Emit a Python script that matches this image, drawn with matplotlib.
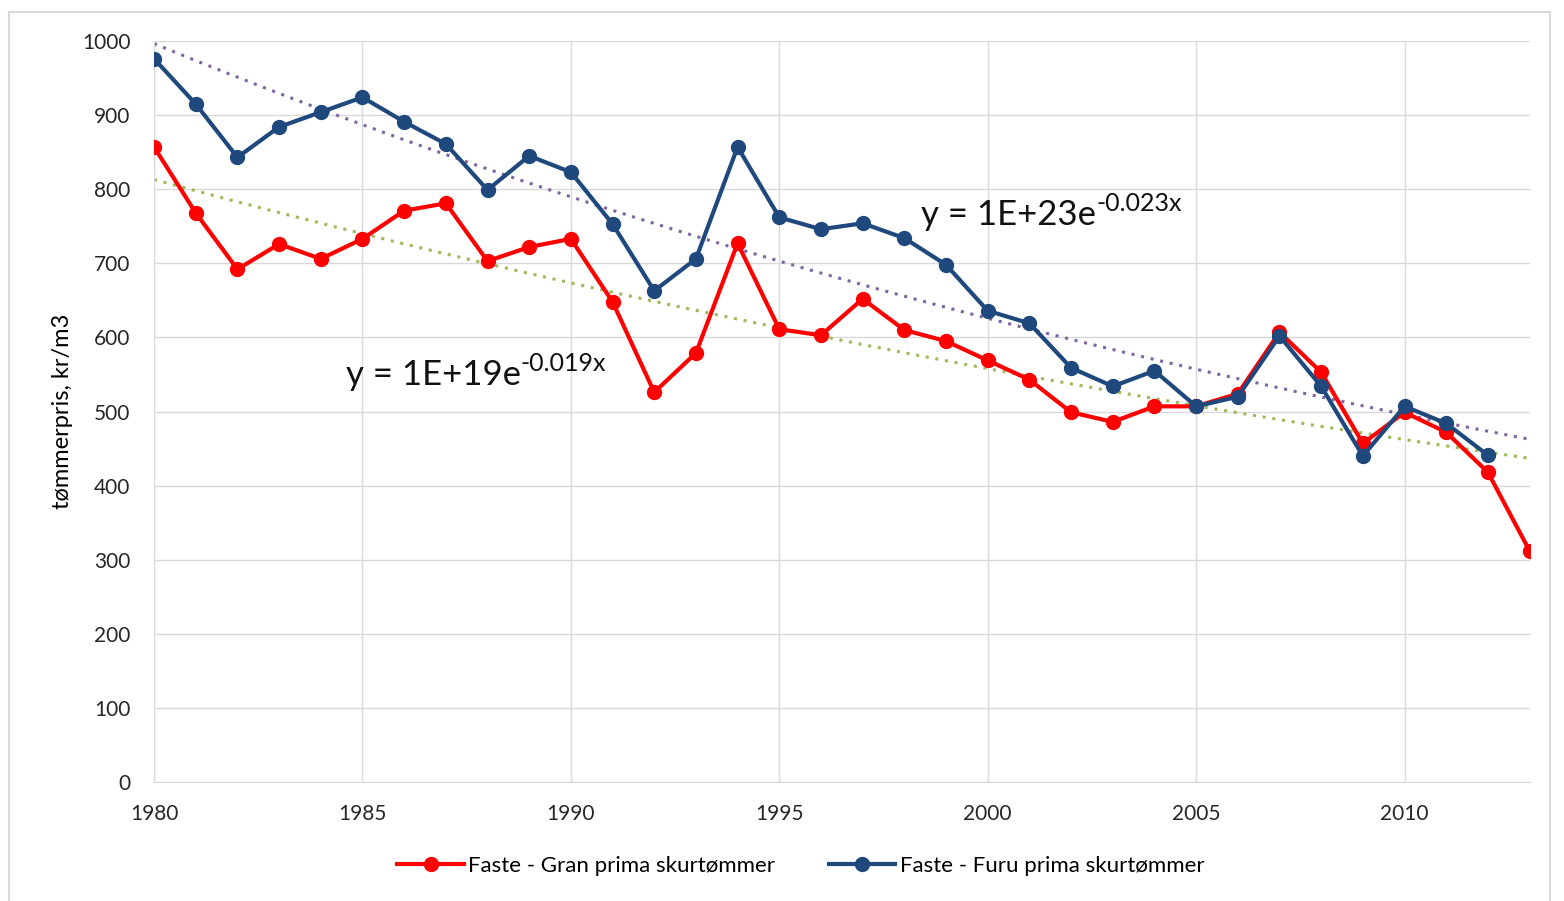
import numpy as np
import matplotlib.pyplot as plt
from matplotlib.patches import Rectangle

plt.rcParams['font.family'] = ['Lato', 'DejaVu Sans']

# data
years_gran = list(range(1980, 2014))
gran = [857, 768, 692, 726, 706, 733, 771, 781, 703, 722,
        733, 648, 526, 579, 727, 611, 603, 652, 610, 595,
        569, 543, 499, 486, 507, 507, 524, 607, 553, 457,
        499, 472, 418, 312]

years_furu = list(range(1980, 2013))
furu = [976, 915, 843, 884, 904, 924, 891, 861, 799, 845,
        823, 753, 663, 706, 857, 762, 746, 754, 734, 698,
        636, 619, 559, 534, 555, 507, 520, 602, 534, 440,
        507, 484, 441]

red = '#ff0000'
blue = '#1f497d'

fig = plt.figure(figsize=(15.64, 9.01), dpi=100)
ax = fig.add_axes([0.0985, 0.132, 0.8795, 0.8225])

# border around chart area like excel
fig.patches.append(Rectangle((0.006, -0.01), 0.985, 0.997, transform=fig.transFigure,
                             fill=False, edgecolor='#d9d9d9', linewidth=1.5))

# exponential trendlines (fit ln y)
xs = np.linspace(1980, 2013, 100)
b, a = np.polyfit(years_furu, np.log(furu), 1)
ax.plot(xs, np.exp(a + b * xs), color='#8064a2', linestyle=(0, (1, 2.2)), linewidth=2.2, zorder=2)
b2, a2 = np.polyfit(years_gran, np.log(gran), 1)
ax.plot(xs, np.exp(a2 + b2 * xs), color='#9bbb59', linestyle=(0, (1, 2.2)), linewidth=2.2, zorder=2)

ax.plot(years_gran, gran, color=red, linewidth=3, marker='o', markersize=10,
        label='Faste - Gran prima skurtømmer', zorder=3)
ax.plot(years_furu, furu, color=blue, linewidth=3, marker='o', markersize=10,
        label='Faste - Furu prima skurtømmer', zorder=4)

# trend equations, superscript as its own text so the hyphen stays a hyphen
for xpos, ypos, base, expo in [(1998.4, 765, 'y = 1E+23e', '-0.023x'),
                               (1984.6, 549, 'y = 1E+19e', '-0.019x')]:
    t = ax.text(xpos, ypos, base, fontsize=25, va='center', ha='left', color='#111111')
    ax.annotate(expo, xy=(1, 0.5), xycoords=t, fontsize=18, va='bottom', ha='left',
                color='#111111')

ax.set_xlim(1980, 2013)
ax.set_ylim(0, 1000)
ax.set_xticks(range(1980, 2011, 5))
ax.set_yticks(range(0, 1001, 100))
ax.grid(True, color='#d9d9d9', linewidth=1)
ax.set_axisbelow(True)
for s in ['top', 'right']:
    ax.spines[s].set_visible(False)
ax.spines['left'].set_color('#d9d9d9')
ax.spines['bottom'].set_color('#d9d9d9')
ax.tick_params(axis='y', length=0, labelsize=15, colors='#262626', pad=17)
ax.tick_params(axis='x', length=0, labelsize=15, colors='#262626', pad=16)
ax.set_ylabel('tømmerpris, kr/m3', fontsize=17)
ax.yaxis.set_label_coords(-0.059, 0.5)

fig.legend(loc='center', bbox_to_anchor=(0.512, 0.039), ncol=2, frameon=False,
           fontsize=16, handlelength=3, columnspacing=2.4, handletextpad=0.2)

fig.savefig('out.png', dpi=100)
